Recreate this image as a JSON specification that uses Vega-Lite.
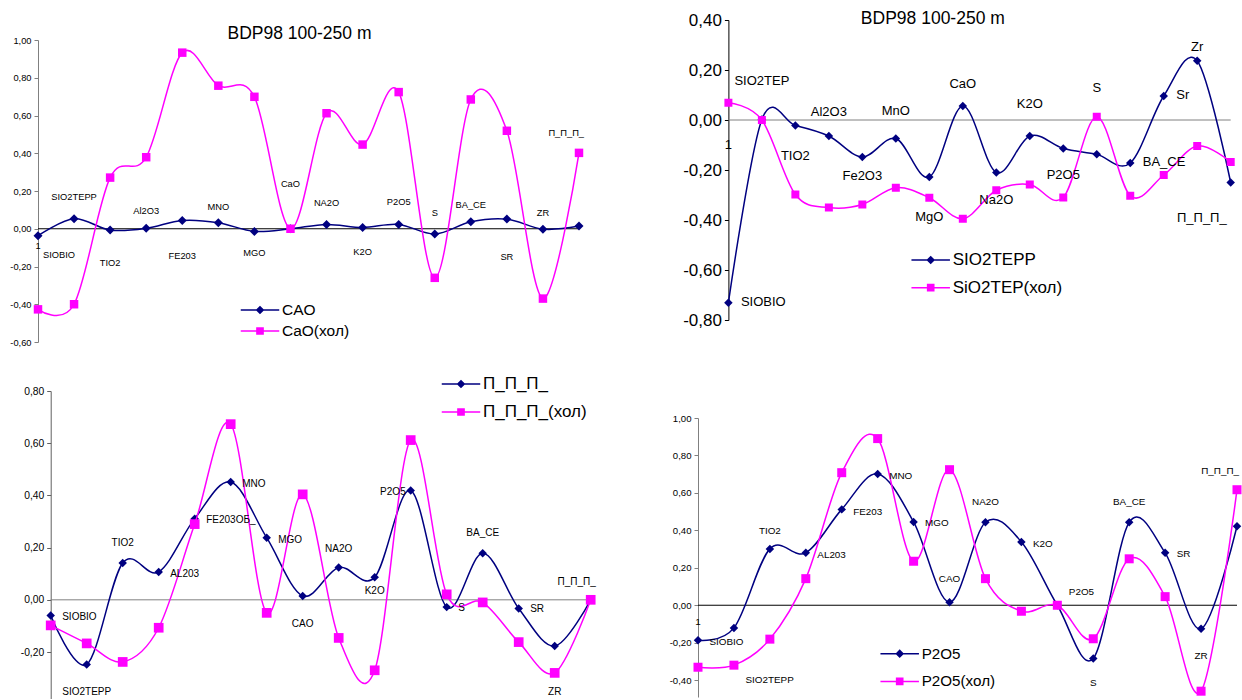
{
  "$schema": "https://vega.github.io/schema/vega-lite/v6.json",
  "background": "white",
  "padding": {"left": 0, "top": 9, "right": 0, "bottom": 0},
  "autosize": {"type": "pad"},
  "config": {"view": {"stroke": null}, "font": "Liberation Sans"},
  "resolve": {"scale": {"color": "independent", "stroke": "independent", "shape": "independent"}, "legend": {"color": "independent", "stroke": "independent", "shape": "independent"}},
  "datasets": {
    "p1": [
      {"cat": "SIOBIO", "series": "CAO", "value": -0.037},
      {"cat": "SIO2TEPP", "series": "CAO", "value": 0.053},
      {"cat": "TIO2", "series": "CAO", "value": -0.007},
      {"cat": "AL2O3", "series": "CAO", "value": 0.002},
      {"cat": "FE2O3", "series": "CAO", "value": 0.044},
      {"cat": "MNO", "series": "CAO", "value": 0.032},
      {"cat": "MGO", "series": "CAO", "value": -0.014},
      {"cat": "CAO", "series": "CAO", "value": 0.0},
      {"cat": "NA2O", "series": "CAO", "value": 0.023},
      {"cat": "K2O", "series": "CAO", "value": 0.007},
      {"cat": "P2O5", "series": "CAO", "value": 0.023},
      {"cat": "S", "series": "CAO", "value": -0.028},
      {"cat": "BA_CE", "series": "CAO", "value": 0.037},
      {"cat": "SR", "series": "CAO", "value": 0.051},
      {"cat": "ZR", "series": "CAO", "value": -0.002},
      {"cat": "П_П_П_", "series": "CAO", "value": 0.014},
      {"cat": "SIOBIO", "series": "CaO(хол)", "value": -0.427},
      {"cat": "SIO2TEPP", "series": "CaO(хол)", "value": -0.4},
      {"cat": "TIO2", "series": "CaO(хол)", "value": 0.271},
      {"cat": "AL2O3", "series": "CaO(хол)", "value": 0.379},
      {"cat": "FE2O3", "series": "CaO(хол)", "value": 0.933},
      {"cat": "MNO", "series": "CaO(хол)", "value": 0.758},
      {"cat": "MGO", "series": "CaO(хол)", "value": 0.699},
      {"cat": "CAO", "series": "CaO(хол)", "value": 0.0},
      {"cat": "NA2O", "series": "CaO(хол)", "value": 0.612},
      {"cat": "K2O", "series": "CaO(хол)", "value": 0.446},
      {"cat": "P2O5", "series": "CaO(хол)", "value": 0.724},
      {"cat": "S", "series": "CaO(хол)", "value": -0.26},
      {"cat": "BA_CE", "series": "CaO(хол)", "value": 0.685},
      {"cat": "SR", "series": "CaO(хол)", "value": 0.519},
      {"cat": "ZR", "series": "CaO(хол)", "value": -0.37},
      {"cat": "П_П_П_", "series": "CaO(хол)", "value": 0.402}
    ],
    "p1lab": [
      {"cat": "SIOBIO", "label": "SIOBIO", "value": -0.137},
      {"cat": "SIOBIO", "label": "1", "value": -0.089},
      {"cat": "SIO2TEPP", "label": "SIO2TEPP", "value": 0.166},
      {"cat": "TIO2", "label": "TIO2", "value": -0.183},
      {"cat": "AL2O3", "label": "Al2O3", "value": 0.093},
      {"cat": "FE2O3", "label": "FE203", "value": -0.142},
      {"cat": "MNO", "label": "MNO", "value": 0.115},
      {"cat": "MGO", "label": "MGO", "value": -0.131},
      {"cat": "CAO", "label": "CaO", "value": 0.235},
      {"cat": "NA2O", "label": "NA2O", "value": 0.136},
      {"cat": "K2O", "label": "K2O", "value": -0.121},
      {"cat": "P2O5", "label": "P2O5", "value": 0.141},
      {"cat": "S", "label": "S", "value": 0.081},
      {"cat": "BA_CE", "label": "BA_CE", "value": 0.124},
      {"cat": "SR", "label": "SR", "value": -0.152},
      {"cat": "ZR", "label": "ZR", "value": 0.081},
      {"cat": "П_П_П_", "label": "П_П_П_", "value": 0.508}
    ],
    "p2": [
      {"cat": "SIOBIO", "series": "SIO2TEPP", "value": -0.731},
      {"cat": "SIO2TEPP", "series": "SIO2TEPP", "value": 0.002},
      {"cat": "TIO2", "series": "SIO2TEPP", "value": -0.022},
      {"cat": "AL2O3", "series": "SIO2TEPP", "value": -0.064},
      {"cat": "FE2O3", "series": "SIO2TEPP", "value": -0.148},
      {"cat": "MNO", "series": "SIO2TEPP", "value": -0.074},
      {"cat": "MGO", "series": "SIO2TEPP", "value": -0.228},
      {"cat": "CAO", "series": "SIO2TEPP", "value": 0.056},
      {"cat": "NA2O", "series": "SIO2TEPP", "value": -0.21},
      {"cat": "K2O", "series": "SIO2TEPP", "value": -0.064},
      {"cat": "P2O5", "series": "SIO2TEPP", "value": -0.114},
      {"cat": "S", "series": "SIO2TEPP", "value": -0.137},
      {"cat": "BA_CE", "series": "SIO2TEPP", "value": -0.172},
      {"cat": "SR", "series": "SIO2TEPP", "value": 0.096},
      {"cat": "ZR", "series": "SIO2TEPP", "value": 0.237},
      {"cat": "П_П_П_", "series": "SIO2TEPP", "value": -0.25},
      {"cat": "SIOBIO", "series": "SiO2TEP(хол)", "value": 0.069},
      {"cat": "SIO2TEPP", "series": "SiO2TEP(хол)", "value": 0.0},
      {"cat": "TIO2", "series": "SiO2TEP(хол)", "value": -0.298},
      {"cat": "AL2O3", "series": "SiO2TEP(хол)", "value": -0.35},
      {"cat": "FE2O3", "series": "SiO2TEP(хол)", "value": -0.338},
      {"cat": "MNO", "series": "SiO2TEP(хол)", "value": -0.271},
      {"cat": "MGO", "series": "SiO2TEP(хол)", "value": -0.311},
      {"cat": "CAO", "series": "SiO2TEP(хол)", "value": -0.395},
      {"cat": "NA2O", "series": "SiO2TEP(хол)", "value": -0.281},
      {"cat": "K2O", "series": "SiO2TEP(хол)", "value": -0.258},
      {"cat": "P2O5", "series": "SiO2TEP(хол)", "value": -0.31},
      {"cat": "S", "series": "SiO2TEP(хол)", "value": 0.013},
      {"cat": "BA_CE", "series": "SiO2TEP(хол)", "value": -0.303},
      {"cat": "SR", "series": "SiO2TEP(хол)", "value": -0.22},
      {"cat": "ZR", "series": "SiO2TEP(хол)", "value": -0.104},
      {"cat": "П_П_П_", "series": "SiO2TEP(хол)", "value": -0.168}
    ],
    "p2lab": [
      {"cat": "SIOBIO", "label": "SIOBIO", "value": -0.727},
      {"cat": "SIOBIO", "label": "1", "value": -0.101},
      {"cat": "SIO2TEPP", "label": "SIO2TEP", "value": 0.158},
      {"cat": "TIO2", "label": "TIO2", "value": -0.144},
      {"cat": "AL2O3", "label": "Al2O3", "value": 0.032},
      {"cat": "FE2O3", "label": "Fe2O3", "value": -0.224},
      {"cat": "MNO", "label": "MnO", "value": 0.036},
      {"cat": "MGO", "label": "MgO", "value": -0.387},
      {"cat": "CAO", "label": "CaO", "value": 0.145},
      {"cat": "NA2O", "label": "Na2O", "value": -0.318},
      {"cat": "K2O", "label": "K2O", "value": 0.063},
      {"cat": "P2O5", "label": "P2O5", "value": -0.221},
      {"cat": "S", "label": "S", "value": 0.128},
      {"cat": "BA_CE", "label": "BA_CE", "value": -0.168},
      {"cat": "SR", "label": "Sr", "value": 0.099},
      {"cat": "ZR", "label": "Zr", "value": 0.294},
      {"cat": "П_П_П_", "label": "П_П_П_", "value": -0.391}
    ],
    "p3": [
      {"cat": "SIOBIO", "series": "П_П_П_", "value": -0.06},
      {"cat": "SIO2TEPP", "series": "П_П_П_", "value": -0.248},
      {"cat": "TIO2", "series": "П_П_П_", "value": 0.141},
      {"cat": "AL2O3", "series": "П_П_П_", "value": 0.107},
      {"cat": "FE2O3", "series": "П_П_П_", "value": 0.311},
      {"cat": "MNO", "series": "П_П_П_", "value": 0.451},
      {"cat": "MGO", "series": "П_П_П_", "value": 0.238},
      {"cat": "CAO", "series": "П_П_П_", "value": 0.015},
      {"cat": "NA2O", "series": "П_П_П_", "value": 0.124},
      {"cat": "K2O", "series": "П_П_П_", "value": 0.086},
      {"cat": "P2O5", "series": "П_П_П_", "value": 0.419},
      {"cat": "S", "series": "П_П_П_", "value": -0.028},
      {"cat": "BA_CE", "series": "П_П_П_", "value": 0.178},
      {"cat": "SR", "series": "П_П_П_", "value": -0.033},
      {"cat": "ZR", "series": "П_П_П_", "value": -0.177},
      {"cat": "П_П_П_", "series": "П_П_П_", "value": 0.0},
      {"cat": "SIOBIO", "series": "П_П_П_(хол)", "value": -0.098},
      {"cat": "SIO2TEPP", "series": "П_П_П_(хол)", "value": -0.167},
      {"cat": "TIO2", "series": "П_П_П_(хол)", "value": -0.238},
      {"cat": "AL2O3", "series": "П_П_П_(хол)", "value": -0.107},
      {"cat": "FE2O3", "series": "П_П_П_(хол)", "value": 0.29},
      {"cat": "MNO", "series": "П_П_П_(хол)", "value": 0.673},
      {"cat": "MGO", "series": "П_П_П_(хол)", "value": -0.05},
      {"cat": "CAO", "series": "П_П_П_(хол)", "value": 0.404},
      {"cat": "NA2O", "series": "П_П_П_(хол)", "value": -0.146},
      {"cat": "K2O", "series": "П_П_П_(хол)", "value": -0.27},
      {"cat": "P2O5", "series": "П_П_П_(хол)", "value": 0.612},
      {"cat": "S", "series": "П_П_П_(хол)", "value": 0.021},
      {"cat": "BA_CE", "series": "П_П_П_(хол)", "value": -0.01},
      {"cat": "SR", "series": "П_П_П_(хол)", "value": -0.162},
      {"cat": "ZR", "series": "П_П_П_(хол)", "value": -0.28},
      {"cat": "П_П_П_", "series": "П_П_П_(хол)", "value": 0.0}
    ],
    "p3lab": [
      {"cat": "SIOBIO", "label": "SIOBIO", "value": -0.065},
      {"cat": "SIO2TEPP", "label": "SIO2TEPP", "value": -0.353},
      {"cat": "TIO2", "label": "TIO2", "value": 0.216},
      {"cat": "AL2O3", "label": "AL203", "value": 0.1},
      {"cat": "FE2O3", "label": "FE203ОБ_", "value": 0.307},
      {"cat": "MNO", "label": "MNO", "value": 0.445},
      {"cat": "MGO", "label": "MGO", "value": 0.229},
      {"cat": "CAO", "label": "CAO", "value": -0.091},
      {"cat": "NA2O", "label": "NA2O", "value": 0.196},
      {"cat": "K2O", "label": "K2O", "value": 0.035},
      {"cat": "P2O5", "label": "P2O5", "value": 0.412},
      {"cat": "S", "label": "S", "value": -0.033},
      {"cat": "BA_CE", "label": "BA_CE", "value": 0.257},
      {"cat": "SR", "label": "SR", "value": -0.037},
      {"cat": "ZR", "label": "ZR", "value": -0.353},
      {"cat": "П_П_П_", "label": "П_П_П_", "value": 0.067}
    ],
    "p4": [
      {"cat": "SIOBIO", "series": "P2O5", "value": -0.187},
      {"cat": "SIO2TEPP", "series": "P2O5", "value": -0.121},
      {"cat": "TIO2", "series": "P2O5", "value": 0.301},
      {"cat": "AL2O3", "series": "P2O5", "value": 0.28},
      {"cat": "FE2O3", "series": "P2O5", "value": 0.512},
      {"cat": "MNO", "series": "P2O5", "value": 0.701},
      {"cat": "MGO", "series": "P2O5", "value": 0.445},
      {"cat": "CAO", "series": "P2O5", "value": 0.016},
      {"cat": "NA2O", "series": "P2O5", "value": 0.443},
      {"cat": "K2O", "series": "P2O5", "value": 0.338},
      {"cat": "P2O5", "series": "P2O5", "value": 0.0},
      {"cat": "S", "series": "P2O5", "value": -0.284},
      {"cat": "BA_CE", "series": "P2O5", "value": 0.443},
      {"cat": "SR", "series": "P2O5", "value": 0.28},
      {"cat": "ZR", "series": "P2O5", "value": -0.126},
      {"cat": "П_П_П_", "series": "P2O5", "value": 0.422},
      {"cat": "SIOBIO", "series": "P2O5(хол)", "value": -0.331},
      {"cat": "SIO2TEPP", "series": "P2O5(хол)", "value": -0.32},
      {"cat": "TIO2", "series": "P2O5(хол)", "value": -0.181},
      {"cat": "AL2O3", "series": "P2O5(хол)", "value": 0.142},
      {"cat": "FE2O3", "series": "P2O5(хол)", "value": 0.708},
      {"cat": "MNO", "series": "P2O5(хол)", "value": 0.89},
      {"cat": "MGO", "series": "P2O5(хол)", "value": 0.235},
      {"cat": "CAO", "series": "P2O5(хол)", "value": 0.724},
      {"cat": "NA2O", "series": "P2O5(хол)", "value": 0.142},
      {"cat": "K2O", "series": "P2O5(хол)", "value": -0.032},
      {"cat": "P2O5", "series": "P2O5(хол)", "value": 0.0},
      {"cat": "S", "series": "P2O5(хол)", "value": -0.179},
      {"cat": "BA_CE", "series": "P2O5(хол)", "value": 0.248},
      {"cat": "SR", "series": "P2O5(хол)", "value": 0.046},
      {"cat": "ZR", "series": "P2O5(хол)", "value": -0.459},
      {"cat": "П_П_П_", "series": "P2O5(хол)", "value": 0.617}
    ],
    "p4lab": [
      {"cat": "SIOBIO", "label": "SIOBIO", "value": -0.197},
      {"cat": "SIOBIO", "label": "1", "value": -0.091},
      {"cat": "SIO2TEPP", "label": "SIO2TEPP", "value": -0.4},
      {"cat": "TIO2", "label": "TIO2", "value": 0.399},
      {"cat": "AL2O3", "label": "AL203", "value": 0.271},
      {"cat": "FE2O3", "label": "FE203", "value": 0.5},
      {"cat": "MNO", "label": "MNO", "value": 0.688},
      {"cat": "MGO", "label": "MGO", "value": 0.438},
      {"cat": "CAO", "label": "CAO", "value": 0.142},
      {"cat": "NA2O", "label": "NA2O", "value": 0.552},
      {"cat": "K2O", "label": "K2O", "value": 0.329},
      {"cat": "P2O5", "label": "P2O5", "value": 0.069},
      {"cat": "S", "label": "S", "value": -0.414},
      {"cat": "BA_CE", "label": "BA_CE", "value": 0.553},
      {"cat": "SR", "label": "SR", "value": 0.274},
      {"cat": "ZR", "label": "ZR", "value": -0.272},
      {"cat": "П_П_П_", "label": "П_П_П_", "value": 0.719}
    ]
  },
  "spacing": 43,
  "hconcat": [
    {
      "columns": 1, "align": "none", "spacing": 0,
      "resolve": {"scale": {"color": "independent", "stroke": "independent", "shape": "independent"}, "legend": {"color": "independent", "stroke": "independent", "shape": "independent"}},
      "concat": [
        {"width": 1, "height": 4, "data": {"values": []}, "mark": "point"},
        {
          "columns": 1, "align": "none", "spacing": 23,
          "resolve": {"scale": {"color": "independent", "stroke": "independent", "shape": "independent"}, "legend": {"color": "independent", "stroke": "independent", "shape": "independent"}},
          "concat": [
            {
              "width": 541, "height": 302,
              "title": {"text": "BDP98 100-250 m", "font": "Liberation Sans", "fontSize": 17.5, "fontWeight": "normal", "color": "#000000", "anchor": "middle", "dx": -9, "offset": -6},
              "layer": [
                {"data": {"values": [{}]}, "mark": {"type": "rule", "color": "#000000", "strokeWidth": 1},
                 "encoding": {"y": {"datum": 0, "type": "quantitative", "scale": {"domain": [-0.6, 1], "nice": false, "zero": false},
                   "axis": {"values": [-0.6, -0.4, -0.2, 0, 0.2, 0.4, 0.6, 0.8, 1], "labelExpr": "replace(replace(format(datum.value, '.2f'), '.', ','), '\u2212', '-')", "grid": false, "title": null, "domainColor": "#808080", "tickColor": "#808080", "tickSize": 4, "labelFont": "Liberation Sans", "labelFontSize": 9.3, "labelColor": "#000000", "labelPadding": 3, "minExtent": 38, "labelOverlap": false, "labelFlush": false}}}},
                {"data": {"name": "p1"}, "transform": [{"filter": "datum.series === 'CAO'"}],
                 "mark": {"type": "line", "interpolate": "cardinal", "color": "#000080", "strokeWidth": 1.5, "point": {"shape": "diamond", "filled": true, "size": 81, "color": "#000080"}},
                 "encoding": {"x": {"field": "cat", "type": "nominal", "sort": null, "scale": {"type": "point", "padding": 0, "domain": ["SIOBIO","SIO2TEPP","TIO2","AL2O3","FE2O3","MNO","MGO","CAO","NA2O","K2O","P2O5","S","BA_CE","SR","ZR","П_П_П_"]}, "axis": null},
                   "y": {"field": "value", "type": "quantitative", "scale": {"domain": [-0.6, 1], "nice": false, "zero": false},
                   "axis": {"values": [-0.6, -0.4, -0.2, 0, 0.2, 0.4, 0.6, 0.8, 1], "labelExpr": "replace(replace(format(datum.value, '.2f'), '.', ','), '\u2212', '-')", "grid": false, "title": null, "domainColor": "#808080", "tickColor": "#808080", "tickSize": 4, "labelFont": "Liberation Sans", "labelFontSize": 9.3, "labelColor": "#000000", "labelPadding": 3, "minExtent": 38, "labelOverlap": false, "labelFlush": false}}}},
                {"data": {"name": "p1"}, "transform": [{"filter": "datum.series !== 'CAO'"}],
                 "mark": {"type": "line", "interpolate": "cardinal", "color": "#ff00ff", "strokeWidth": 1.5, "point": {"shape": "square", "filled": true, "size": 72, "color": "#ff00ff"}},
                 "encoding": {"x": {"field": "cat", "type": "nominal", "sort": null, "scale": {"type": "point", "padding": 0, "domain": ["SIOBIO","SIO2TEPP","TIO2","AL2O3","FE2O3","MNO","MGO","CAO","NA2O","K2O","P2O5","S","BA_CE","SR","ZR","П_П_П_"]}, "axis": null},
                   "y": {"field": "value", "type": "quantitative", "scale": {"domain": [-0.6, 1], "nice": false, "zero": false},
                   "axis": {"values": [-0.6, -0.4, -0.2, 0, 0.2, 0.4, 0.6, 0.8, 1], "labelExpr": "replace(replace(format(datum.value, '.2f'), '.', ','), '\u2212', '-')", "grid": false, "title": null, "domainColor": "#808080", "tickColor": "#808080", "tickSize": 4, "labelFont": "Liberation Sans", "labelFontSize": 9.3, "labelColor": "#000000", "labelPadding": 3, "minExtent": 38, "labelOverlap": false, "labelFlush": false}}}},
                {"data": {"name": "p1"},
                 "mark": {"type": "point", "filled": true, "opacity": 0},
                 "encoding": {"x": {"field": "cat", "type": "nominal", "sort": null, "scale": {"type": "point", "padding": 0, "domain": ["SIOBIO","SIO2TEPP","TIO2","AL2O3","FE2O3","MNO","MGO","CAO","NA2O","K2O","P2O5","S","BA_CE","SR","ZR","П_П_П_"]}, "axis": null},
                   "y": {"field": "value", "type": "quantitative", "scale": {"domain": [-0.6, 1], "nice": false, "zero": false},
                   "axis": {"values": [-0.6, -0.4, -0.2, 0, 0.2, 0.4, 0.6, 0.8, 1], "labelExpr": "replace(replace(format(datum.value, '.2f'), '.', ','), '\u2212', '-')", "grid": false, "title": null, "domainColor": "#808080", "tickColor": "#808080", "tickSize": 4, "labelFont": "Liberation Sans", "labelFontSize": 9.3, "labelColor": "#000000", "labelPadding": 3, "minExtent": 38, "labelOverlap": false, "labelFlush": false}},
                   "color": {"field": "series", "type": "nominal", "scale": {"domain": ["CAO", "CaO(хол)"], "range": ["#000080", "#ff00ff"]},
                     "legend": {"title": null, "orient": "none", "legendX": 202, "legendY": 260.5, "symbolSize": 1482, "symbolStrokeWidth": 1.5, "symbolOpacity": 1, "labelFont": "Liberation Sans", "labelFontSize": 15.5, "labelColor": "#000000", "labelOffset": 2, "clipHeight": 19, "rowPadding": 2, "padding": 0, "labelLimit": 400}},
                   "stroke": {"field": "series", "type": "nominal", "scale": {"domain": ["CAO", "CaO(хол)"], "range": ["#000080", "#ff00ff"]},
                     "legend": {"title": null, "orient": "none", "legendX": 202, "legendY": 260.5, "symbolSize": 1482, "symbolStrokeWidth": 1.5, "symbolOpacity": 1, "labelFont": "Liberation Sans", "labelFontSize": 15.5, "labelColor": "#000000", "labelOffset": 2, "clipHeight": 19, "rowPadding": 2, "padding": 0, "labelLimit": 400}},
                   "shape": {"field": "series", "type": "nominal", "scale": {"domain": ["CAO", "CaO(хол)"], "range": ["M-1,0H1M-0.17,0L0,-0.17L0.17,0L0,0.17Z", "M-1,0H1M-0.16,-0.16H0.16V0.16H-0.16Z"]},
                     "legend": {"title": null, "orient": "none", "legendX": 202, "legendY": 260.5, "symbolSize": 1482, "symbolStrokeWidth": 1.5, "symbolOpacity": 1, "labelFont": "Liberation Sans", "labelFontSize": 15.5, "labelColor": "#000000", "labelOffset": 2, "clipHeight": 19, "rowPadding": 2, "padding": 0, "labelLimit": 400}}}},
                {"data": {"name": "p1lab"}, "transform": [{"filter": {"field": "label", "oneOf": ["SIOBIO"]}}],
                 "mark": {"type": "text", "align": "left", "dx": 5, "baseline": "middle", "font": "Liberation Sans", "fontSize": 9.3, "color": "#000000"},
                 "encoding": {"x": {"field": "cat", "type": "nominal", "sort": null, "scale": {"type": "point", "padding": 0, "domain": ["SIOBIO","SIO2TEPP","TIO2","AL2O3","FE2O3","MNO","MGO","CAO","NA2O","K2O","P2O5","S","BA_CE","SR","ZR","П_П_П_"]}, "axis": null},
                   "y": {"field": "value", "type": "quantitative", "scale": {"domain": [-0.6, 1], "nice": false, "zero": false},
                   "axis": {"values": [-0.6, -0.4, -0.2, 0, 0.2, 0.4, 0.6, 0.8, 1], "labelExpr": "replace(replace(format(datum.value, '.2f'), '.', ','), '\u2212', '-')", "grid": false, "title": null, "domainColor": "#808080", "tickColor": "#808080", "tickSize": 4, "labelFont": "Liberation Sans", "labelFontSize": 9.3, "labelColor": "#000000", "labelPadding": 3, "minExtent": 38, "labelOverlap": false, "labelFlush": false}}, "text": {"field": "label"}}},
                {"data": {"name": "p1lab"}, "transform": [{"filter": {"field": "label", "oneOf": ["П_П_П_"]}}],
                 "mark": {"type": "text", "align": "right", "dx": 5, "baseline": "middle", "font": "Liberation Sans", "fontSize": 9.3, "color": "#000000"},
                 "encoding": {"x": {"field": "cat", "type": "nominal", "sort": null, "scale": {"type": "point", "padding": 0, "domain": ["SIOBIO","SIO2TEPP","TIO2","AL2O3","FE2O3","MNO","MGO","CAO","NA2O","K2O","P2O5","S","BA_CE","SR","ZR","П_П_П_"]}, "axis": null},
                   "y": {"field": "value", "type": "quantitative", "scale": {"domain": [-0.6, 1], "nice": false, "zero": false},
                   "axis": {"values": [-0.6, -0.4, -0.2, 0, 0.2, 0.4, 0.6, 0.8, 1], "labelExpr": "replace(replace(format(datum.value, '.2f'), '.', ','), '\u2212', '-')", "grid": false, "title": null, "domainColor": "#808080", "tickColor": "#808080", "tickSize": 4, "labelFont": "Liberation Sans", "labelFontSize": 9.3, "labelColor": "#000000", "labelPadding": 3, "minExtent": 38, "labelOverlap": false, "labelFlush": false}}, "text": {"field": "label"}}},
                {"data": {"name": "p1lab"}, "transform": [{"filter": {"not": {"field": "label", "oneOf": ["SIOBIO", "П_П_П_"]}}}],
                 "mark": {"type": "text", "align": "center", "baseline": "middle", "font": "Liberation Sans", "fontSize": 9.3, "color": "#000000"},
                 "encoding": {"x": {"field": "cat", "type": "nominal", "sort": null, "scale": {"type": "point", "padding": 0, "domain": ["SIOBIO","SIO2TEPP","TIO2","AL2O3","FE2O3","MNO","MGO","CAO","NA2O","K2O","P2O5","S","BA_CE","SR","ZR","П_П_П_"]}, "axis": null},
                   "y": {"field": "value", "type": "quantitative", "scale": {"domain": [-0.6, 1], "nice": false, "zero": false},
                   "axis": {"values": [-0.6, -0.4, -0.2, 0, 0.2, 0.4, 0.6, 0.8, 1], "labelExpr": "replace(replace(format(datum.value, '.2f'), '.', ','), '\u2212', '-')", "grid": false, "title": null, "domainColor": "#808080", "tickColor": "#808080", "tickSize": 4, "labelFont": "Liberation Sans", "labelFontSize": 9.3, "labelColor": "#000000", "labelPadding": 3, "minExtent": 38, "labelOverlap": false, "labelFlush": false}}, "text": {"field": "label"}}}
              ]
            },
            {
              "width": 552.7, "height": 308,
              "layer": [
                {"data": {"values": [{}]}, "mark": {"type": "rule", "color": "#808080", "strokeWidth": 1},
                 "encoding": {
                   "x": {"datum": "SIOBIO", "type": "nominal", "scale": {"type": "point", "padding": 0, "range": [12.7, 552.7], "domain": ["SIOBIO","SIO2TEPP","TIO2","AL2O3","FE2O3","MNO","MGO","CAO","NA2O","K2O","P2O5","S","BA_CE","SR","ZR","П_П_П_"]}, "axis": null},
                   "x2": {"datum": "П_П_П_"},
                   "y": {"datum": 0, "type": "quantitative", "scale": {"domain": [-0.38, 0.8], "nice": false, "zero": false},
                   "axis": {"values": [-0.2, 0, 0.2, 0.4, 0.6, 0.8], "offset": -12.7, "labelExpr": "replace(replace(format(datum.value, '.2f'), '.', ','), '\u2212', '-')", "grid": false, "title": null, "domainColor": "#606060", "tickColor": "#606060", "tickSize": 4, "labelFont": "Liberation Sans", "labelFontSize": 10.3, "labelColor": "#000000", "labelPadding": 3, "minExtent": 20, "labelOverlap": false, "labelFlush": false}}}},
                {"data": {"name": "p3"}, "transform": [{"filter": "datum.series === 'П_П_П_'"}],
                 "mark": {"type": "line", "interpolate": "cardinal", "color": "#000080", "strokeWidth": 1.5, "point": {"shape": "diamond", "filled": true, "size": 72, "color": "#000080"}},
                 "encoding": {"x": {"field": "cat", "type": "nominal", "sort": null, "scale": {"type": "point", "padding": 0, "range": [12.7, 552.7], "domain": ["SIOBIO","SIO2TEPP","TIO2","AL2O3","FE2O3","MNO","MGO","CAO","NA2O","K2O","P2O5","S","BA_CE","SR","ZR","П_П_П_"]}, "axis": null},
                   "y": {"field": "value", "type": "quantitative", "scale": {"domain": [-0.38, 0.8], "nice": false, "zero": false},
                   "axis": {"values": [-0.2, 0, 0.2, 0.4, 0.6, 0.8], "offset": -12.7, "labelExpr": "replace(replace(format(datum.value, '.2f'), '.', ','), '\u2212', '-')", "grid": false, "title": null, "domainColor": "#606060", "tickColor": "#606060", "tickSize": 4, "labelFont": "Liberation Sans", "labelFontSize": 10.3, "labelColor": "#000000", "labelPadding": 3, "minExtent": 20, "labelOverlap": false, "labelFlush": false}}}},
                {"data": {"name": "p3"}, "transform": [{"filter": "datum.series !== 'П_П_П_'"}],
                 "mark": {"type": "line", "interpolate": "cardinal", "color": "#ff00ff", "strokeWidth": 1.5, "point": {"shape": "square", "filled": true, "size": 94, "color": "#ff00ff"}},
                 "encoding": {"x": {"field": "cat", "type": "nominal", "sort": null, "scale": {"type": "point", "padding": 0, "range": [12.7, 552.7], "domain": ["SIOBIO","SIO2TEPP","TIO2","AL2O3","FE2O3","MNO","MGO","CAO","NA2O","K2O","P2O5","S","BA_CE","SR","ZR","П_П_П_"]}, "axis": null},
                   "y": {"field": "value", "type": "quantitative", "scale": {"domain": [-0.38, 0.8], "nice": false, "zero": false},
                   "axis": {"values": [-0.2, 0, 0.2, 0.4, 0.6, 0.8], "offset": -12.7, "labelExpr": "replace(replace(format(datum.value, '.2f'), '.', ','), '\u2212', '-')", "grid": false, "title": null, "domainColor": "#606060", "tickColor": "#606060", "tickSize": 4, "labelFont": "Liberation Sans", "labelFontSize": 10.3, "labelColor": "#000000", "labelPadding": 3, "minExtent": 20, "labelOverlap": false, "labelFlush": false}}}},
                {"data": {"name": "p3"},
                 "mark": {"type": "point", "filled": true, "opacity": 0},
                 "encoding": {"x": {"field": "cat", "type": "nominal", "sort": null, "scale": {"type": "point", "padding": 0, "range": [12.7, 552.7], "domain": ["SIOBIO","SIO2TEPP","TIO2","AL2O3","FE2O3","MNO","MGO","CAO","NA2O","K2O","P2O5","S","BA_CE","SR","ZR","П_П_П_"]}, "axis": null},
                   "y": {"field": "value", "type": "quantitative", "scale": {"domain": [-0.38, 0.8], "nice": false, "zero": false},
                   "axis": {"values": [-0.2, 0, 0.2, 0.4, 0.6, 0.8], "offset": -12.7, "labelExpr": "replace(replace(format(datum.value, '.2f'), '.', ','), '\u2212', '-')", "grid": false, "title": null, "domainColor": "#606060", "tickColor": "#606060", "tickSize": 4, "labelFont": "Liberation Sans", "labelFontSize": 10.3, "labelColor": "#000000", "labelPadding": 3, "minExtent": 20, "labelOverlap": false, "labelFlush": false}},
                   "color": {"field": "series", "type": "nominal", "scale": {"domain": ["П_П_П_", "П_П_П_(хол)"], "range": ["#000080", "#ff00ff"]},
                     "legend": {"title": null, "orient": "none", "legendX": 403, "legendY": -20, "symbolSize": 1482, "symbolStrokeWidth": 1.5, "symbolOpacity": 1, "labelFont": "Liberation Sans", "labelFontSize": 17, "labelColor": "#000000", "labelOffset": 2, "clipHeight": 26, "rowPadding": 2, "padding": 0, "labelLimit": 400}},
                   "stroke": {"field": "series", "type": "nominal", "scale": {"domain": ["П_П_П_", "П_П_П_(хол)"], "range": ["#000080", "#ff00ff"]},
                     "legend": {"title": null, "orient": "none", "legendX": 403, "legendY": -20, "symbolSize": 1482, "symbolStrokeWidth": 1.5, "symbolOpacity": 1, "labelFont": "Liberation Sans", "labelFontSize": 17, "labelColor": "#000000", "labelOffset": 2, "clipHeight": 26, "rowPadding": 2, "padding": 0, "labelLimit": 400}},
                   "shape": {"field": "series", "type": "nominal", "scale": {"domain": ["П_П_П_", "П_П_П_(хол)"], "range": ["M-1,0H1M-0.17,0L0,-0.17L0.17,0L0,0.17Z", "M-1,0H1M-0.16,-0.16H0.16V0.16H-0.16Z"]},
                     "legend": {"title": null, "orient": "none", "legendX": 403, "legendY": -20, "symbolSize": 1482, "symbolStrokeWidth": 1.5, "symbolOpacity": 1, "labelFont": "Liberation Sans", "labelFontSize": 17, "labelColor": "#000000", "labelOffset": 2, "clipHeight": 26, "rowPadding": 2, "padding": 0, "labelLimit": 400}}}},
                {"data": {"name": "p3lab"}, "transform": [{"filter": {"field": "label", "oneOf": ["SIOBIO", "AL203", "FE203ОБ_", "MNO", "MGO", "S", "SR"]}}],
                 "mark": {"type": "text", "align": "left", "dx": 11.5, "baseline": "middle", "font": "Liberation Sans", "fontSize": 10, "color": "#000000"},
                 "encoding": {"x": {"field": "cat", "type": "nominal", "sort": null, "scale": {"type": "point", "padding": 0, "range": [12.7, 552.7], "domain": ["SIOBIO","SIO2TEPP","TIO2","AL2O3","FE2O3","MNO","MGO","CAO","NA2O","K2O","P2O5","S","BA_CE","SR","ZR","П_П_П_"]}, "axis": null},
                   "y": {"field": "value", "type": "quantitative", "scale": {"domain": [-0.38, 0.8], "nice": false, "zero": false},
                   "axis": {"values": [-0.2, 0, 0.2, 0.4, 0.6, 0.8], "offset": -12.7, "labelExpr": "replace(replace(format(datum.value, '.2f'), '.', ','), '\u2212', '-')", "grid": false, "title": null, "domainColor": "#606060", "tickColor": "#606060", "tickSize": 4, "labelFont": "Liberation Sans", "labelFontSize": 10.3, "labelColor": "#000000", "labelPadding": 3, "minExtent": 20, "labelOverlap": false, "labelFlush": false}}, "text": {"field": "label"}}},
                {"data": {"name": "p3lab"}, "transform": [{"filter": {"field": "label", "oneOf": ["P2O5"]}}],
                 "mark": {"type": "text", "align": "right", "dx": -5, "baseline": "middle", "font": "Liberation Sans", "fontSize": 10, "color": "#000000"},
                 "encoding": {"x": {"field": "cat", "type": "nominal", "sort": null, "scale": {"type": "point", "padding": 0, "range": [12.7, 552.7], "domain": ["SIOBIO","SIO2TEPP","TIO2","AL2O3","FE2O3","MNO","MGO","CAO","NA2O","K2O","P2O5","S","BA_CE","SR","ZR","П_П_П_"]}, "axis": null},
                   "y": {"field": "value", "type": "quantitative", "scale": {"domain": [-0.38, 0.8], "nice": false, "zero": false},
                   "axis": {"values": [-0.2, 0, 0.2, 0.4, 0.6, 0.8], "offset": -12.7, "labelExpr": "replace(replace(format(datum.value, '.2f'), '.', ','), '\u2212', '-')", "grid": false, "title": null, "domainColor": "#606060", "tickColor": "#606060", "tickSize": 4, "labelFont": "Liberation Sans", "labelFontSize": 10.3, "labelColor": "#000000", "labelPadding": 3, "minExtent": 20, "labelOverlap": false, "labelFlush": false}}, "text": {"field": "label"}}},
                {"data": {"name": "p3lab"}, "transform": [{"filter": {"field": "label", "oneOf": ["П_П_П_"]}}],
                 "mark": {"type": "text", "align": "right", "dx": 5, "baseline": "middle", "font": "Liberation Sans", "fontSize": 10, "color": "#000000"},
                 "encoding": {"x": {"field": "cat", "type": "nominal", "sort": null, "scale": {"type": "point", "padding": 0, "range": [12.7, 552.7], "domain": ["SIOBIO","SIO2TEPP","TIO2","AL2O3","FE2O3","MNO","MGO","CAO","NA2O","K2O","P2O5","S","BA_CE","SR","ZR","П_П_П_"]}, "axis": null},
                   "y": {"field": "value", "type": "quantitative", "scale": {"domain": [-0.38, 0.8], "nice": false, "zero": false},
                   "axis": {"values": [-0.2, 0, 0.2, 0.4, 0.6, 0.8], "offset": -12.7, "labelExpr": "replace(replace(format(datum.value, '.2f'), '.', ','), '\u2212', '-')", "grid": false, "title": null, "domainColor": "#606060", "tickColor": "#606060", "tickSize": 4, "labelFont": "Liberation Sans", "labelFontSize": 10.3, "labelColor": "#000000", "labelPadding": 3, "minExtent": 20, "labelOverlap": false, "labelFlush": false}}, "text": {"field": "label"}}},
                {"data": {"name": "p3lab"}, "transform": [{"filter": {"not": {"field": "label", "oneOf": ["SIOBIO", "AL203", "FE203ОБ_", "MNO", "MGO", "S", "SR", "P2O5", "П_П_П_"]}}}],
                 "mark": {"type": "text", "align": "center", "baseline": "middle", "font": "Liberation Sans", "fontSize": 10, "color": "#000000"},
                 "encoding": {"x": {"field": "cat", "type": "nominal", "sort": null, "scale": {"type": "point", "padding": 0, "range": [12.7, 552.7], "domain": ["SIOBIO","SIO2TEPP","TIO2","AL2O3","FE2O3","MNO","MGO","CAO","NA2O","K2O","P2O5","S","BA_CE","SR","ZR","П_П_П_"]}, "axis": null},
                   "y": {"field": "value", "type": "quantitative", "scale": {"domain": [-0.38, 0.8], "nice": false, "zero": false},
                   "axis": {"values": [-0.2, 0, 0.2, 0.4, 0.6, 0.8], "offset": -12.7, "labelExpr": "replace(replace(format(datum.value, '.2f'), '.', ','), '\u2212', '-')", "grid": false, "title": null, "domainColor": "#606060", "tickColor": "#606060", "tickSize": 4, "labelFont": "Liberation Sans", "labelFontSize": 10.3, "labelColor": "#000000", "labelPadding": 3, "minExtent": 20, "labelOverlap": false, "labelFlush": false}}, "text": {"field": "label"}}}
              ]
            }
          ]
        }
      ]
    },
    {
      "columns": 1, "align": "none", "spacing": 85,
      "resolve": {"scale": {"color": "independent", "stroke": "independent", "shape": "independent"}, "legend": {"color": "independent", "stroke": "independent", "shape": "independent"}},
      "concat": [
        {
          "width": 532.7, "height": 300,
          "title": {"text": "BDP98 100-250 m", "font": "Liberation Sans", "fontSize": 17.5, "fontWeight": "normal", "color": "#000000", "anchor": "middle", "dx": -31.5, "offset": -16},
          "layer": [
            {"data": {"values": [{}]}, "mark": {"type": "rule", "color": "#808080", "strokeWidth": 1},
             "encoding": {
               "x": {"datum": "SIOBIO", "type": "nominal", "scale": {"type": "point", "padding": 0, "range": [30.4, 532.7], "domain": ["SIOBIO","SIO2TEPP","TIO2","AL2O3","FE2O3","MNO","MGO","CAO","NA2O","K2O","P2O5","S","BA_CE","SR","ZR","П_П_П_"]}, "axis": null},
               "x2": {"datum": "П_П_П_"},
               "y": {"datum": 0, "type": "quantitative", "scale": {"domain": [-0.8, 0.4], "nice": false, "zero": false},
               "axis": {"values": [-0.8, -0.6, -0.4, -0.2, 0, 0.2, 0.4], "offset": -30.4, "labelExpr": "replace(replace(format(datum.value, '.2f'), '.', ','), '\u2212', '-')", "grid": false, "title": null, "domainColor": "#000000", "tickColor": "#000000", "tickSize": 4, "labelFont": "Liberation Sans", "labelFontSize": 17, "labelColor": "#000000", "labelPadding": 3, "minExtent": 20, "labelOverlap": false, "labelFlush": false}}}},
            {"data": {"name": "p2"}, "transform": [{"filter": "datum.series === 'SIO2TEPP'"}],
             "mark": {"type": "line", "interpolate": "cardinal", "color": "#000080", "strokeWidth": 1.5, "point": {"shape": "diamond", "filled": true, "size": 72, "color": "#000080"}},
             "encoding": {"x": {"field": "cat", "type": "nominal", "sort": null, "scale": {"type": "point", "padding": 0, "range": [30.4, 532.7], "domain": ["SIOBIO","SIO2TEPP","TIO2","AL2O3","FE2O3","MNO","MGO","CAO","NA2O","K2O","P2O5","S","BA_CE","SR","ZR","П_П_П_"]}, "axis": null},
               "y": {"field": "value", "type": "quantitative", "scale": {"domain": [-0.8, 0.4], "nice": false, "zero": false},
               "axis": {"values": [-0.8, -0.6, -0.4, -0.2, 0, 0.2, 0.4], "offset": -30.4, "labelExpr": "replace(replace(format(datum.value, '.2f'), '.', ','), '\u2212', '-')", "grid": false, "title": null, "domainColor": "#000000", "tickColor": "#000000", "tickSize": 4, "labelFont": "Liberation Sans", "labelFontSize": 17, "labelColor": "#000000", "labelPadding": 3, "minExtent": 20, "labelOverlap": false, "labelFlush": false}}}},
            {"data": {"name": "p2"}, "transform": [{"filter": "datum.series !== 'SIO2TEPP'"}],
             "mark": {"type": "line", "interpolate": "cardinal", "color": "#ff00ff", "strokeWidth": 1.5, "point": {"shape": "square", "filled": true, "size": 64, "color": "#ff00ff"}},
             "encoding": {"x": {"field": "cat", "type": "nominal", "sort": null, "scale": {"type": "point", "padding": 0, "range": [30.4, 532.7], "domain": ["SIOBIO","SIO2TEPP","TIO2","AL2O3","FE2O3","MNO","MGO","CAO","NA2O","K2O","P2O5","S","BA_CE","SR","ZR","П_П_П_"]}, "axis": null},
               "y": {"field": "value", "type": "quantitative", "scale": {"domain": [-0.8, 0.4], "nice": false, "zero": false},
               "axis": {"values": [-0.8, -0.6, -0.4, -0.2, 0, 0.2, 0.4], "offset": -30.4, "labelExpr": "replace(replace(format(datum.value, '.2f'), '.', ','), '\u2212', '-')", "grid": false, "title": null, "domainColor": "#000000", "tickColor": "#000000", "tickSize": 4, "labelFont": "Liberation Sans", "labelFontSize": 17, "labelColor": "#000000", "labelPadding": 3, "minExtent": 20, "labelOverlap": false, "labelFlush": false}}}},
            {"data": {"name": "p2"},
             "mark": {"type": "point", "filled": true, "opacity": 0},
             "encoding": {"x": {"field": "cat", "type": "nominal", "sort": null, "scale": {"type": "point", "padding": 0, "range": [30.4, 532.7], "domain": ["SIOBIO","SIO2TEPP","TIO2","AL2O3","FE2O3","MNO","MGO","CAO","NA2O","K2O","P2O5","S","BA_CE","SR","ZR","П_П_П_"]}, "axis": null},
               "y": {"field": "value", "type": "quantitative", "scale": {"domain": [-0.8, 0.4], "nice": false, "zero": false},
               "axis": {"values": [-0.8, -0.6, -0.4, -0.2, 0, 0.2, 0.4], "offset": -30.4, "labelExpr": "replace(replace(format(datum.value, '.2f'), '.', ','), '\u2212', '-')", "grid": false, "title": null, "domainColor": "#000000", "tickColor": "#000000", "tickSize": 4, "labelFont": "Liberation Sans", "labelFontSize": 17, "labelColor": "#000000", "labelPadding": 3, "minExtent": 20, "labelOverlap": false, "labelFlush": false}},
               "color": {"field": "series", "type": "nominal", "scale": {"domain": ["SIO2TEPP", "SiO2TEP(хол)"], "range": ["#000080", "#ff00ff"]},
                 "legend": {"title": null, "orient": "none", "legendX": 212.7, "legendY": 227, "symbolSize": 1482, "symbolStrokeWidth": 1.5, "symbolOpacity": 1, "labelFont": "Liberation Sans", "labelFontSize": 17, "labelColor": "#000000", "labelOffset": 2, "clipHeight": 26, "rowPadding": 1.7, "padding": 0, "labelLimit": 400}},
               "stroke": {"field": "series", "type": "nominal", "scale": {"domain": ["SIO2TEPP", "SiO2TEP(хол)"], "range": ["#000080", "#ff00ff"]},
                 "legend": {"title": null, "orient": "none", "legendX": 212.7, "legendY": 227, "symbolSize": 1482, "symbolStrokeWidth": 1.5, "symbolOpacity": 1, "labelFont": "Liberation Sans", "labelFontSize": 17, "labelColor": "#000000", "labelOffset": 2, "clipHeight": 26, "rowPadding": 1.7, "padding": 0, "labelLimit": 400}},
               "shape": {"field": "series", "type": "nominal", "scale": {"domain": ["SIO2TEPP", "SiO2TEP(хол)"], "range": ["M-1,0H1M-0.17,0L0,-0.17L0.17,0L0,0.17Z", "M-1,0H1M-0.16,-0.16H0.16V0.16H-0.16Z"]},
                 "legend": {"title": null, "orient": "none", "legendX": 212.7, "legendY": 227, "symbolSize": 1482, "symbolStrokeWidth": 1.5, "symbolOpacity": 1, "labelFont": "Liberation Sans", "labelFontSize": 17, "labelColor": "#000000", "labelOffset": 2, "clipHeight": 26, "rowPadding": 1.7, "padding": 0, "labelLimit": 400}}}},
            {"data": {"name": "p2lab"}, "transform": [{"filter": {"field": "label", "oneOf": ["SIOBIO", "BA_CE", "Sr"]}}],
             "mark": {"type": "text", "align": "left", "dx": 12.5, "baseline": "middle", "font": "Liberation Sans", "fontSize": 13, "color": "#000000"},
             "encoding": {"x": {"field": "cat", "type": "nominal", "sort": null, "scale": {"type": "point", "padding": 0, "range": [30.4, 532.7], "domain": ["SIOBIO","SIO2TEPP","TIO2","AL2O3","FE2O3","MNO","MGO","CAO","NA2O","K2O","P2O5","S","BA_CE","SR","ZR","П_П_П_"]}, "axis": null},
               "y": {"field": "value", "type": "quantitative", "scale": {"domain": [-0.8, 0.4], "nice": false, "zero": false},
               "axis": {"values": [-0.8, -0.6, -0.4, -0.2, 0, 0.2, 0.4], "offset": -30.4, "labelExpr": "replace(replace(format(datum.value, '.2f'), '.', ','), '\u2212', '-')", "grid": false, "title": null, "domainColor": "#000000", "tickColor": "#000000", "tickSize": 4, "labelFont": "Liberation Sans", "labelFontSize": 17, "labelColor": "#000000", "labelPadding": 3, "minExtent": 20, "labelOverlap": false, "labelFlush": false}}, "text": {"field": "label"}}},
            {"data": {"name": "p2lab"}, "transform": [{"filter": {"field": "label", "oneOf": ["П_П_П_"]}}],
             "mark": {"type": "text", "align": "right", "dx": -4, "baseline": "middle", "font": "Liberation Sans", "fontSize": 13, "color": "#000000"},
             "encoding": {"x": {"field": "cat", "type": "nominal", "sort": null, "scale": {"type": "point", "padding": 0, "range": [30.4, 532.7], "domain": ["SIOBIO","SIO2TEPP","TIO2","AL2O3","FE2O3","MNO","MGO","CAO","NA2O","K2O","P2O5","S","BA_CE","SR","ZR","П_П_П_"]}, "axis": null},
               "y": {"field": "value", "type": "quantitative", "scale": {"domain": [-0.8, 0.4], "nice": false, "zero": false},
               "axis": {"values": [-0.8, -0.6, -0.4, -0.2, 0, 0.2, 0.4], "offset": -30.4, "labelExpr": "replace(replace(format(datum.value, '.2f'), '.', ','), '\u2212', '-')", "grid": false, "title": null, "domainColor": "#000000", "tickColor": "#000000", "tickSize": 4, "labelFont": "Liberation Sans", "labelFontSize": 17, "labelColor": "#000000", "labelPadding": 3, "minExtent": 20, "labelOverlap": false, "labelFlush": false}}, "text": {"field": "label"}}},
            {"data": {"name": "p2lab"}, "transform": [{"filter": {"not": {"field": "label", "oneOf": ["SIOBIO", "BA_CE", "Sr", "П_П_П_"]}}}],
             "mark": {"type": "text", "align": "center", "baseline": "middle", "font": "Liberation Sans", "fontSize": 13, "color": "#000000"},
             "encoding": {"x": {"field": "cat", "type": "nominal", "sort": null, "scale": {"type": "point", "padding": 0, "range": [30.4, 532.7], "domain": ["SIOBIO","SIO2TEPP","TIO2","AL2O3","FE2O3","MNO","MGO","CAO","NA2O","K2O","P2O5","S","BA_CE","SR","ZR","П_П_П_"]}, "axis": null},
               "y": {"field": "value", "type": "quantitative", "scale": {"domain": [-0.8, 0.4], "nice": false, "zero": false},
               "axis": {"values": [-0.8, -0.6, -0.4, -0.2, 0, 0.2, 0.4], "offset": -30.4, "labelExpr": "replace(replace(format(datum.value, '.2f'), '.', ','), '\u2212', '-')", "grid": false, "title": null, "domainColor": "#000000", "tickColor": "#000000", "tickSize": 4, "labelFont": "Liberation Sans", "labelFontSize": 17, "labelColor": "#000000", "labelPadding": 3, "minExtent": 20, "labelOverlap": false, "labelFlush": false}}, "text": {"field": "label"}}}
          ]
        },
        {
          "width": 539, "height": 279,
          "layer": [
            {"data": {"values": [{}]}, "mark": {"type": "rule", "color": "#000000", "strokeWidth": 1},
             "encoding": {"y": {"datum": 0, "type": "quantitative", "scale": {"domain": [-0.49, 1], "nice": false, "zero": false},
               "axis": {"values": [-0.4, -0.2, 0, 0.2, 0.4, 0.6, 0.8, 1], "labelExpr": "replace(replace(format(datum.value, '.2f'), '.', ','), '\u2212', '-')", "grid": false, "title": null, "domainColor": "#808080", "tickColor": "#808080", "tickSize": 4, "labelFont": "Liberation Sans", "labelFontSize": 9.6, "labelColor": "#000000", "labelPadding": 3, "minExtent": 58.3, "labelOverlap": false, "labelFlush": false}}}},
            {"data": {"name": "p4"}, "transform": [{"filter": "datum.series === 'P2O5'"}],
             "mark": {"type": "line", "interpolate": "cardinal", "color": "#000080", "strokeWidth": 1.5, "point": {"shape": "diamond", "filled": true, "size": 72, "color": "#000080"}},
             "encoding": {"x": {"field": "cat", "type": "nominal", "sort": null, "scale": {"type": "point", "padding": 0, "domain": ["SIOBIO","SIO2TEPP","TIO2","AL2O3","FE2O3","MNO","MGO","CAO","NA2O","K2O","P2O5","S","BA_CE","SR","ZR","П_П_П_"]}, "axis": null},
               "y": {"field": "value", "type": "quantitative", "scale": {"domain": [-0.49, 1], "nice": false, "zero": false},
               "axis": {"values": [-0.4, -0.2, 0, 0.2, 0.4, 0.6, 0.8, 1], "labelExpr": "replace(replace(format(datum.value, '.2f'), '.', ','), '\u2212', '-')", "grid": false, "title": null, "domainColor": "#808080", "tickColor": "#808080", "tickSize": 4, "labelFont": "Liberation Sans", "labelFontSize": 9.6, "labelColor": "#000000", "labelPadding": 3, "minExtent": 58.3, "labelOverlap": false, "labelFlush": false}}}},
            {"data": {"name": "p4"}, "transform": [{"filter": "datum.series !== 'P2O5'"}],
             "mark": {"type": "line", "interpolate": "cardinal", "color": "#ff00ff", "strokeWidth": 1.5, "point": {"shape": "square", "filled": true, "size": 81, "color": "#ff00ff"}},
             "encoding": {"x": {"field": "cat", "type": "nominal", "sort": null, "scale": {"type": "point", "padding": 0, "domain": ["SIOBIO","SIO2TEPP","TIO2","AL2O3","FE2O3","MNO","MGO","CAO","NA2O","K2O","P2O5","S","BA_CE","SR","ZR","П_П_П_"]}, "axis": null},
               "y": {"field": "value", "type": "quantitative", "scale": {"domain": [-0.49, 1], "nice": false, "zero": false},
               "axis": {"values": [-0.4, -0.2, 0, 0.2, 0.4, 0.6, 0.8, 1], "labelExpr": "replace(replace(format(datum.value, '.2f'), '.', ','), '\u2212', '-')", "grid": false, "title": null, "domainColor": "#808080", "tickColor": "#808080", "tickSize": 4, "labelFont": "Liberation Sans", "labelFontSize": 9.6, "labelColor": "#000000", "labelPadding": 3, "minExtent": 58.3, "labelOverlap": false, "labelFlush": false}}}},
            {"data": {"name": "p4"},
             "mark": {"type": "point", "filled": true, "opacity": 0},
             "encoding": {"x": {"field": "cat", "type": "nominal", "sort": null, "scale": {"type": "point", "padding": 0, "domain": ["SIOBIO","SIO2TEPP","TIO2","AL2O3","FE2O3","MNO","MGO","CAO","NA2O","K2O","P2O5","S","BA_CE","SR","ZR","П_П_П_"]}, "axis": null},
               "y": {"field": "value", "type": "quantitative", "scale": {"domain": [-0.49, 1], "nice": false, "zero": false},
               "axis": {"values": [-0.4, -0.2, 0, 0.2, 0.4, 0.6, 0.8, 1], "labelExpr": "replace(replace(format(datum.value, '.2f'), '.', ','), '\u2212', '-')", "grid": false, "title": null, "domainColor": "#808080", "tickColor": "#808080", "tickSize": 4, "labelFont": "Liberation Sans", "labelFontSize": 9.6, "labelColor": "#000000", "labelPadding": 3, "minExtent": 58.3, "labelOverlap": false, "labelFlush": false}},
               "color": {"field": "series", "type": "nominal", "scale": {"domain": ["P2O5", "P2O5(хол)"], "range": ["#000080", "#ff00ff"]},
                 "legend": {"title": null, "orient": "none", "legendX": 181.7, "legendY": 222.7, "symbolSize": 1482, "symbolStrokeWidth": 1.5, "symbolOpacity": 1, "labelFont": "Liberation Sans", "labelFontSize": 15.2, "labelColor": "#000000", "labelOffset": 2, "clipHeight": 26, "rowPadding": 1.7, "padding": 0, "labelLimit": 400}},
               "stroke": {"field": "series", "type": "nominal", "scale": {"domain": ["P2O5", "P2O5(хол)"], "range": ["#000080", "#ff00ff"]},
                 "legend": {"title": null, "orient": "none", "legendX": 181.7, "legendY": 222.7, "symbolSize": 1482, "symbolStrokeWidth": 1.5, "symbolOpacity": 1, "labelFont": "Liberation Sans", "labelFontSize": 15.2, "labelColor": "#000000", "labelOffset": 2, "clipHeight": 26, "rowPadding": 1.7, "padding": 0, "labelLimit": 400}},
               "shape": {"field": "series", "type": "nominal", "scale": {"domain": ["P2O5", "P2O5(хол)"], "range": ["M-1,0H1M-0.17,0L0,-0.17L0.17,0L0,0.17Z", "M-1,0H1M-0.16,-0.16H0.16V0.16H-0.16Z"]},
                 "legend": {"title": null, "orient": "none", "legendX": 181.7, "legendY": 222.7, "symbolSize": 1482, "symbolStrokeWidth": 1.5, "symbolOpacity": 1, "labelFont": "Liberation Sans", "labelFontSize": 15.2, "labelColor": "#000000", "labelOffset": 2, "clipHeight": 26, "rowPadding": 1.7, "padding": 0, "labelLimit": 400}}}},
            {"data": {"name": "p4lab"}, "transform": [{"filter": {"field": "label", "oneOf": ["SIOBIO", "SIO2TEPP", "AL203", "FE203", "MNO", "MGO", "K2O", "P2O5", "SR"]}}],
             "mark": {"type": "text", "align": "left", "dx": 11.5, "baseline": "middle", "font": "Liberation Sans", "fontSize": 9.9, "color": "#000000"},
             "encoding": {"x": {"field": "cat", "type": "nominal", "sort": null, "scale": {"type": "point", "padding": 0, "domain": ["SIOBIO","SIO2TEPP","TIO2","AL2O3","FE2O3","MNO","MGO","CAO","NA2O","K2O","P2O5","S","BA_CE","SR","ZR","П_П_П_"]}, "axis": null},
               "y": {"field": "value", "type": "quantitative", "scale": {"domain": [-0.49, 1], "nice": false, "zero": false},
               "axis": {"values": [-0.4, -0.2, 0, 0.2, 0.4, 0.6, 0.8, 1], "labelExpr": "replace(replace(format(datum.value, '.2f'), '.', ','), '\u2212', '-')", "grid": false, "title": null, "domainColor": "#808080", "tickColor": "#808080", "tickSize": 4, "labelFont": "Liberation Sans", "labelFontSize": 9.6, "labelColor": "#000000", "labelPadding": 3, "minExtent": 58.3, "labelOverlap": false, "labelFlush": false}}, "text": {"field": "label"}}},
            {"data": {"name": "p4lab"}, "transform": [{"filter": {"field": "label", "oneOf": ["П_П_П_"]}}],
             "mark": {"type": "text", "align": "right", "dx": 2, "baseline": "middle", "font": "Liberation Sans", "fontSize": 9.9, "color": "#000000"},
             "encoding": {"x": {"field": "cat", "type": "nominal", "sort": null, "scale": {"type": "point", "padding": 0, "domain": ["SIOBIO","SIO2TEPP","TIO2","AL2O3","FE2O3","MNO","MGO","CAO","NA2O","K2O","P2O5","S","BA_CE","SR","ZR","П_П_П_"]}, "axis": null},
               "y": {"field": "value", "type": "quantitative", "scale": {"domain": [-0.49, 1], "nice": false, "zero": false},
               "axis": {"values": [-0.4, -0.2, 0, 0.2, 0.4, 0.6, 0.8, 1], "labelExpr": "replace(replace(format(datum.value, '.2f'), '.', ','), '\u2212', '-')", "grid": false, "title": null, "domainColor": "#808080", "tickColor": "#808080", "tickSize": 4, "labelFont": "Liberation Sans", "labelFontSize": 9.6, "labelColor": "#000000", "labelPadding": 3, "minExtent": 58.3, "labelOverlap": false, "labelFlush": false}}, "text": {"field": "label"}}},
            {"data": {"name": "p4lab"}, "transform": [{"filter": {"not": {"field": "label", "oneOf": ["SIOBIO", "SIO2TEPP", "AL203", "FE203", "MNO", "MGO", "K2O", "P2O5", "SR", "П_П_П_"]}}}],
             "mark": {"type": "text", "align": "center", "baseline": "middle", "font": "Liberation Sans", "fontSize": 9.9, "color": "#000000"},
             "encoding": {"x": {"field": "cat", "type": "nominal", "sort": null, "scale": {"type": "point", "padding": 0, "domain": ["SIOBIO","SIO2TEPP","TIO2","AL2O3","FE2O3","MNO","MGO","CAO","NA2O","K2O","P2O5","S","BA_CE","SR","ZR","П_П_П_"]}, "axis": null},
               "y": {"field": "value", "type": "quantitative", "scale": {"domain": [-0.49, 1], "nice": false, "zero": false},
               "axis": {"values": [-0.4, -0.2, 0, 0.2, 0.4, 0.6, 0.8, 1], "labelExpr": "replace(replace(format(datum.value, '.2f'), '.', ','), '\u2212', '-')", "grid": false, "title": null, "domainColor": "#808080", "tickColor": "#808080", "tickSize": 4, "labelFont": "Liberation Sans", "labelFontSize": 9.6, "labelColor": "#000000", "labelPadding": 3, "minExtent": 58.3, "labelOverlap": false, "labelFlush": false}}, "text": {"field": "label"}}}
          ]
        }
      ]
    }
  ]
}
